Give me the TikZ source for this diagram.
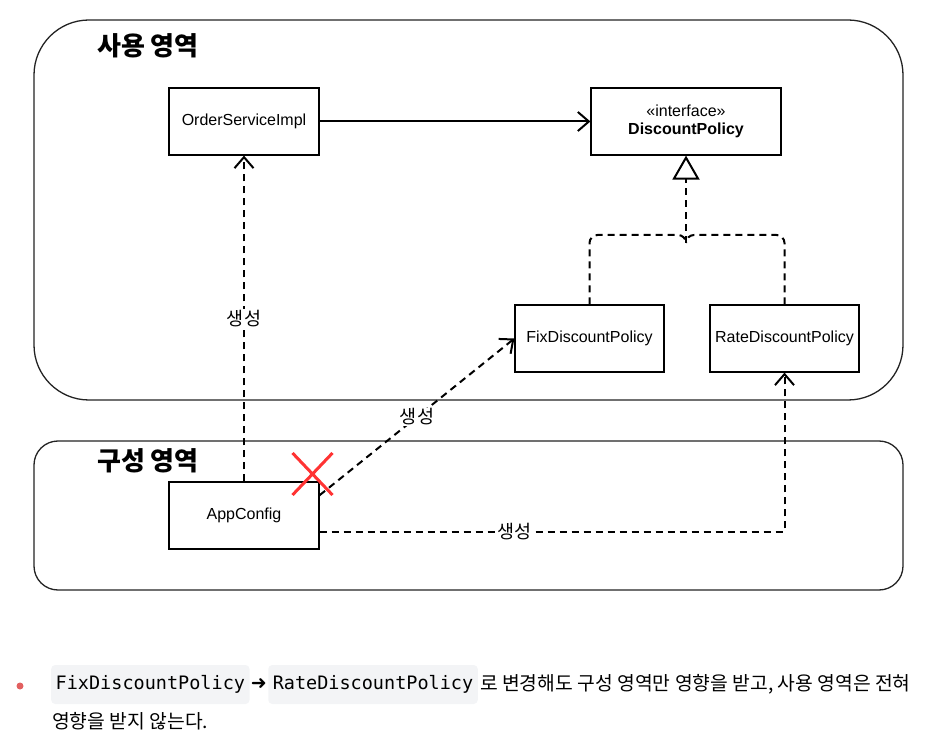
\documentclass[tikz,border=0pt]{standalone}
\usepackage{fontspec}
\setmainfont{Liberation Sans}
\setmonofont{DejaVu Sans Mono}
\newfontfamily\krfont{Noto Sans CJK KR}
\newfontfamily\symfont{DejaVu Sans}
\usetikzlibrary{arrows.meta,positioning,calc}
\definecolor{xred}{RGB}{255,51,51}
\definecolor{dotred}{RGB}{226,96,96}
\definecolor{codebg}{RGB}{243,244,246}
\definecolor{frame}{RGB}{35,35,35}

\begin{document}
\begin{tikzpicture}[x=1pt,y=-1pt,
  font=\fontsize{16}{19}\selectfont,
  box/.style={draw=black,line width=1.2pt,minimum width=150pt,minimum height=67pt,align=center,inner sep=2pt},
  area/.style={draw=frame,line width=1.3pt},
  title/.style={font=\krfont\bfseries\fontsize{26}{30}\selectfont},
  lbl/.style={font=\krfont\fontsize{18.5}{22}\selectfont,fill=white,inner sep=1pt},
  dep/.style={line width=2pt,dash pattern=on 7pt off 5pt,-{Straight Barb[length=11pt,width=19pt]}},
  impl/.style={line width=2pt,dash pattern=on 7pt off 5pt},
  code/.style={fill=codebg,rounded corners=4pt,minimum height=39pt,inner xsep=4.5pt,
    font=\ttfamily\fontsize{18.5}{22}\selectfont},
  body/.style={font=\krfont\fontsize{19.3}{23}\selectfont,inner sep=1pt}
]
\useasboundingbox (0,0) rectangle (935,743);
% areas
\draw[area,rounded corners=55pt] (34,20) rectangle (903,400);
\draw[area,rounded corners=24pt] (34,441) rectangle (903,590);
\node[title] (use) at (148,46) {사용 영역};
\node[title] (cfg) at (148,461) {구성 영역};
% boxes
\node[box] (osi) at (244,121.5) {OrderServiceImpl};
\node[box,minimum width=190pt] (dp) at (686,121.5) {«interface»\\[-1pt]\textbf{DiscountPolicy}};
\node[box,minimum width=149pt] (fix) at (589.5,338.5) {FixDiscountPolicy};
\node[box,minimum width=149pt] (rate) at (784.5,338.5) {RateDiscountPolicy};
\node[box] (app) at (244,515.5) {AppConfig};
\coordinate (join) at (686,237);
% arrows
\draw[line width=2pt,-{Straight Barb[length=11pt,width=19pt]}] (osi) -- (dp);
\draw[impl,rounded corners=8pt] (fix.north) |- ([yshift=2pt]join) -- ([yshift=-6pt]join);
\draw[impl,rounded corners=8pt] (rate.north) |- ([yshift=2pt]join) -- ([yshift=-6pt]join);
\draw[impl,-{Triangle[open,length=24pt,width=27pt]}] ([yshift=-6pt]join) -- (dp.south);
\draw[dep] (app.north) -- node[lbl] (g1) {생성} (osi.south);
\draw[dep] (app.15) -- node[lbl] (g2) {생성} (fix.west);
\draw[dep] (app.-12.4) -| node[lbl,pos=0.21] (g3) {생성} (rate.south);
% cross
\coordinate (xm) at (312.5,474);
\draw[xred,line width=3pt] ($(xm)+(-20,-21)$) -- ($(xm)+(20,21)$)
  ($(xm)+(-20,21)$) -- ($(xm)+(20,-21)$);
% note
\fill[dotred] (20,686) circle (3.5pt);
\node[code,anchor=west] (c1) at (51,684.5) {FixDiscountPolicy};
\node[font=\symfont\fontsize{19}{22}\selectfont,inner sep=1pt,right=0pt of c1] (ar) {➜};
\node[code,right=0pt of ar] (c2) {RateDiscountPolicy};
\node[body,right=1pt of c2] (t1) {로 변경해도 구성 영역만 영향을 받고, 사용 영역은 전혀};
\node[body,anchor=west] (t2) at (51,721) {영향을 받지 않는다.};
\end{tikzpicture}
\end{document}
